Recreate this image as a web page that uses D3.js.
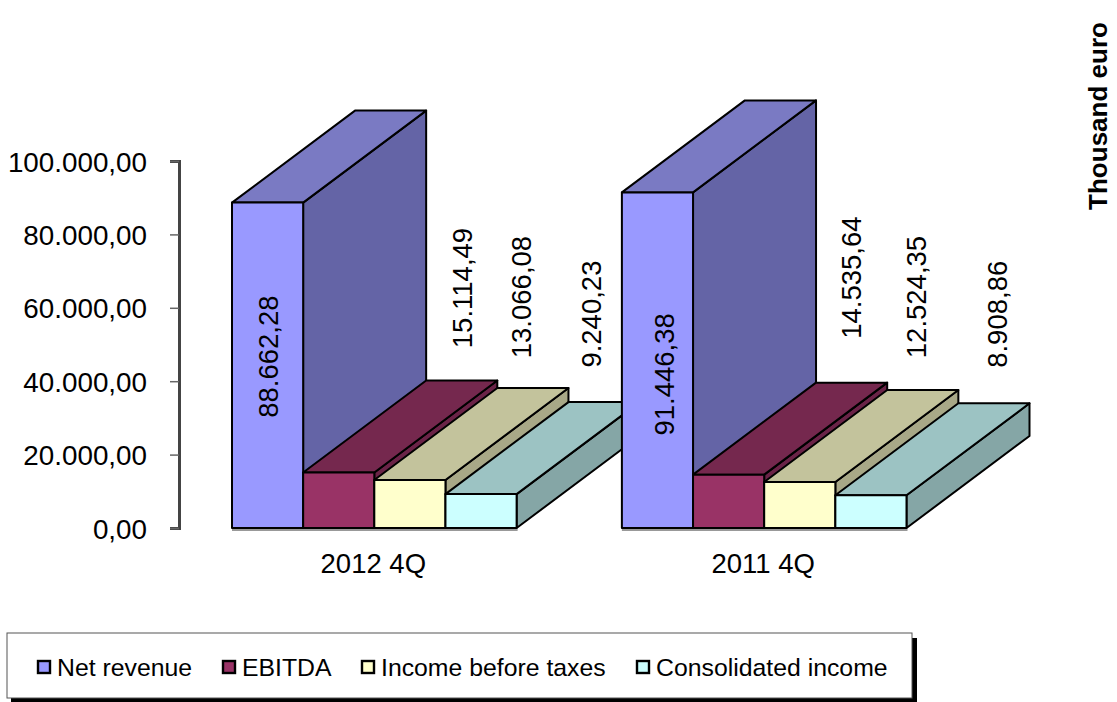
<!DOCTYPE html>
<html>
<head>
<meta charset="utf-8">
<style>
  html, body { margin: 0; padding: 0; background: #fff; }
  svg { display: block; font-family: "Liberation Sans", Arial, sans-serif; fill: #000; }
</style>
<script src="https://cdn.jsdelivr.net/npm/d3@7"></script>
</head>
<body>
<svg id="chart" width="1117" height="702"></svg>
<script>
// Quarterly results in thousand euro
const periods = ["2012 4Q", "2011 4Q"];
const seriesNames = ["Net revenue", "EBITDA", "Income before taxes", "Consolidated income"];
const netRevenue = [88662.28, 91446.38];
const ebitda = [15114.49, 14535.64];
const incomeBeforeTaxes = [13066.08, 12524.35];
const consolidatedIncome = [9240.23, 8908.86];
const yTicks = [0, 20000, 40000, 60000, 80000, 100000];
const unitLabel = "Thousand euro";

const seriesValues = [netRevenue, ebitda, incomeBeforeTaxes, consolidatedIncome];

// Face colours for each series: front, top, side
const faceColors = [
  ["#9999ff", "#7a7ac3", "#6464a6"],
  ["#993366", "#75284e", "#6a2347"],
  ["#ffffcc", "#c3c39c", "#a8a887"],
  ["#ccffff", "#9cc3c3", "#85a6a6"]
];

const svg = d3.select("#chart");
const locale = d3.formatLocale({ decimal: ",", thousands: ".", grouping: [3], currency: ["", ""] });
const fmt = locale.format(",.2f");

const y = d3.scaleLinear().domain([0, 100000]).range([528, 161]);
const xGroup = d3.scaleBand().domain(periods).range([232, 906.5]).paddingInner(0.27);
const xBar = d3.scaleBand().domain(seriesNames).range([0, xGroup.bandwidth()]);

// Oblique projection offset of the bar depth
const depthX = 123, depthY = -92;

// Value axis
const axis = d3.axisLeft(y).tickValues(yTicks).tickSize(9).tickPadding(23).tickFormat(fmt);
const axisG = svg.append("g").attr("transform", "translate(179,0)").call(axis);
axisG.select(".domain").attr("stroke", "#444").attr("stroke-width", 3);
axisG.selectAll(".tick line").attr("stroke", "#666").attr("stroke-width", 1.5);
axisG.selectAll(".tick text")
  .attr("fill", "#000")
  .attr("dy", "0.36em")
  .style("font-family", "'Liberation Sans', Arial, sans-serif")
  .style("font-size", "27.8px");

const line = d3.line();
const plot = svg.append("g").attr("stroke", "#000").attr("stroke-width", 2).attr("stroke-linejoin", "round");

// Soft ground shadow under each front row
periods.forEach(p => {
  const x0 = xGroup(p);
  plot.append("line")
    .attr("x1", x0).attr("x2", x0 + xGroup.bandwidth() + 1)
    .attr("y1", y(0) + 2).attr("y2", y(0) + 2)
    .attr("stroke", "#999").attr("stroke-width", 2);
});

periods.forEach((p, pi) => {
  seriesNames.forEach((name, si) => {
    const v = seriesValues[si][pi];
    const x0 = xGroup(p) + xBar(name);
    const x1 = x0 + xBar.bandwidth();
    const yt = y(v), yb = y(0);
    const [front, top, side] = faceColors[si];
    const faces = [
      { fill: side, pts: [[x1, yt], [x1 + depthX, yt + depthY], [x1 + depthX, yb + depthY], [x1, yb]] },
      { fill: top, pts: [[x0, yt], [x0 + depthX, yt + depthY], [x1 + depthX, yt + depthY], [x1, yt]] },
      { fill: front, pts: [[x0, yt], [x1, yt], [x1, yb], [x0, yb]] }
    ];
    plot.selectAll(null).data(faces).join("path")
      .attr("d", d => line(d.pts) + "Z")
      .attr("fill", d => d.fill);
  });
});

// Value labels, rotated; each one sits at its own offset from the bar's top-left corner
const labelOffsets = [
  [[36, -154], [159, 184.5], [147, 183], [146, 180]],
  [[42, -182], [158, 197], [152, 185], [162, 181]]
];
periods.forEach((p, pi) => {
  seriesNames.forEach((name, si) => {
    const v = seriesValues[si][pi];
    const [dx, dy] = labelOffsets[pi][si];
    const lx = xGroup(p) + xBar(name) + dx;
    const ly = y(v) - dy;
    svg.append("text")
      .attr("transform", `translate(${lx},${ly}) rotate(-90)`)
      .attr("text-anchor", "middle")
      .attr("dy", "0.36em")
      .style("font-size", "27.5px")
      .text(fmt(v));
  });
});

// Category labels
svg.selectAll(null).data(periods).join("text")
  .attr("x", d => xGroup(d) + xGroup.bandwidth() / 2 - 1)
  .attr("y", 573)
  .attr("text-anchor", "middle")
  .style("font-size", "27.5px")
  .text(d => d);

// Unit label
svg.append("text")
  .attr("transform", "translate(1107,116) rotate(-90)")
  .attr("text-anchor", "middle")
  .style("font-size", "26px")
  .style("font-weight", "bold")
  .text(unitLabel);

// Legend box with drop shadow
svg.append("rect").attr("x", 11).attr("y", 638).attr("width", 906).attr("height", 64).attr("fill", "#000");
svg.append("rect").attr("x", 7).attr("y", 633).attr("width", 905).attr("height", 65)
  .attr("fill", "#fff").attr("stroke", "#555").attr("stroke-width", 1);

const legendX = [37, 222, 361, 636];
const legend = svg.selectAll(".legend-item").data(seriesNames).join("g")
  .attr("class", "legend-item")
  .attr("transform", (d, i) => `translate(${legendX[i]},660)`);
legend.append("rect").attr("x", 1).attr("y", 1).attr("width", 12).attr("height", 12)
  .attr("fill", (d, i) => faceColors[i][0]).attr("stroke", "#000").attr("stroke-width", 2.4);
legend.append("text").attr("x", 20).attr("y", 15.5)
  .style("font-size", "24.8px").text(d => d);
</script>
</body>
</html>
